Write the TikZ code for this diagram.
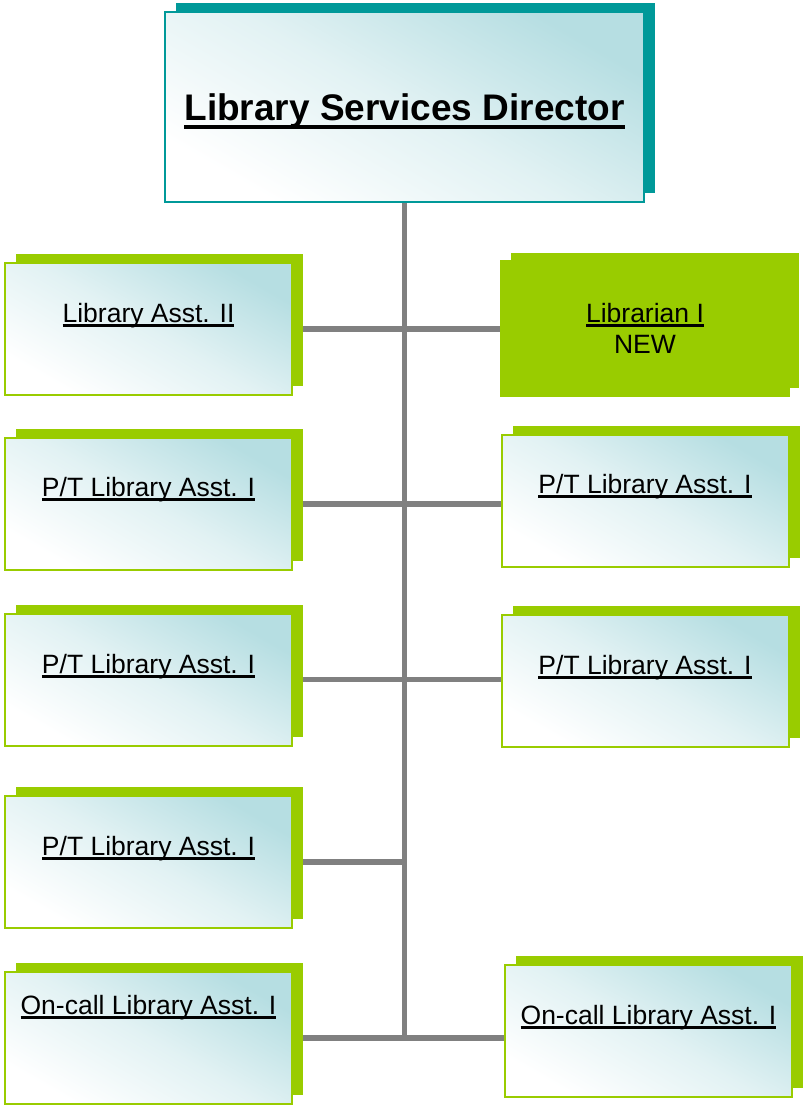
\documentclass[tikz,border=0pt]{standalone}
\usepackage{fontspec}
\setmainfont{Liberation Sans}
\usetikzlibrary{positioning, calc, shadows, backgrounds}

\definecolor{orggreen}{RGB}{153,204,0}
\definecolor{orgteal}{RGB}{0,153,153}
\definecolor{orgtint}{RGB}{182,222,226}
\definecolor{orggray}{RGB}{128,128,128}

% underlined title: thickness, drop below baseline, text
\newcommand{\ultext}[3]{\setbox0=\hbox{#3}\rlap{\rule[-#2]{\wd0}{#1}}\box0}

\begin{document}
\begin{tikzpicture}[
        x=1pt, y=-1pt,
        box/.style={rectangle, line width=2pt, inner sep=0pt, top color=orgtint, bottom color=white,
            middle color=orgtint!40!white, shading angle=-30},
        staff/.style={box, draw=orggreen, minimum width=287pt, minimum height=132pt,
            drop shadow={shadow xshift=11pt, shadow yshift=9pt, fill=orggreen, opacity=1}},
        head/.style={box, draw=orgteal, minimum width=479pt, minimum height=190pt,
            drop shadow={shadow xshift=11pt, shadow yshift=9pt, fill=orgteal, opacity=1}},
        newpost/.style={rectangle, line width=2pt, inner sep=0pt, draw=orggreen, fill=orggreen,
            minimum width=288pt, minimum height=135pt,
            drop shadow={shadow xshift=10pt, shadow yshift=8pt, fill=orggreen, opacity=1}},
        title/.style={font=\fontsize{26.5}{32}\selectfont, anchor=base},
        link/.style={draw=orggray, line width=5.5pt}
    ]
        \useasboundingbox (0,0) rectangle (803,1105);

        % Director
        \node[head] (dir) at (404.5, 107) {};
        \node[title, font=\fontsize{37}{44}\selectfont\bfseries] (dirtxt) at ($(dir)+(0,13.7)$) {\ultext{4.3pt}{8.6pt}{Library Services Director}};

        % Left column
        \node[staff] (la2) at (148.5, 329) {};
        \node[staff] (pta) at (148.5, 504) {};
        \node[staff] (ptb) at (148.5, 679.5) {};
        \node[staff] (ptc) at (148.5, 862) {};
        \node[staff] (oca) at (148.5, 1038) {};

        % Right column
        \node[newpost] (lib1) at (645, 328.5) {};
        \node[staff] (ptd) at (645, 500.5) {};
        \node[staff] (pte) at (645, 680.5) {};
        \node[staff] (ocb) at (648.5, 1031) {};

        % Titles
        \node[title] (la2txt) at ($(la2.north)+(0,60)$) {\ultext{2.8pt}{4.6pt}{Library Asst. II}};
        \node[title] (ptatxt) at ($(pta.north)+(0,59)$) {\ultext{2.8pt}{4.6pt}{P/T Library Asst. I}};
        \node[title] (ptbtxt) at ($(ptb.north)+(0,61)$) {\ultext{2.8pt}{4.6pt}{P/T Library Asst. I}};
        \node[title] (ptctxt) at ($(ptc.north)+(0,60)$) {\ultext{2.8pt}{4.6pt}{P/T Library Asst. I}};
        \node[title] (ocatxt) at ($(oca.north)+(0,43)$) {\ultext{2.8pt}{4.6pt}{On-call Library Asst. I}};
        \node[title] (lib1txt) at ($(lib1.north)+(0,62)$) {\ultext{2.8pt}{4.6pt}{Librarian I}};
        \node[title] (lib1new) at ($(lib1.north)+(0,93)$) {NEW};
        \node[title] (ptdtxt) at ($(ptd.north)+(0,60)$) {\ultext{2.8pt}{4.6pt}{P/T Library Asst. I}};
        \node[title] (ptetxt) at ($(pte.north)+(0,61)$) {\ultext{2.8pt}{4.6pt}{P/T Library Asst. I}};
        \node[title] (ocbtxt) at ($(ocb.north)+(0,60)$) {\ultext{2.8pt}{4.6pt}{On-call Library Asst. I}};

        % Lines
        \coordinate (trunkend) at (404.5, 1041);
        \begin{scope}[on background layer]
            \draw[link] (dir.south) -- (trunkend);
            \draw[link] (la2.east) -- (la2.east -| lib1.west);
            \draw[link] (pta.east) -- (pta.east -| ptd.west);
            \draw[link] (ptb.east) -- (ptb.east -| pte.west);
            \draw[link] (ptc.east) -- (ptc.east -| trunkend);
            \draw[link] (oca.east) -- (oca.east -| ocb.west);
        \end{scope}
\end{tikzpicture}
\end{document}
